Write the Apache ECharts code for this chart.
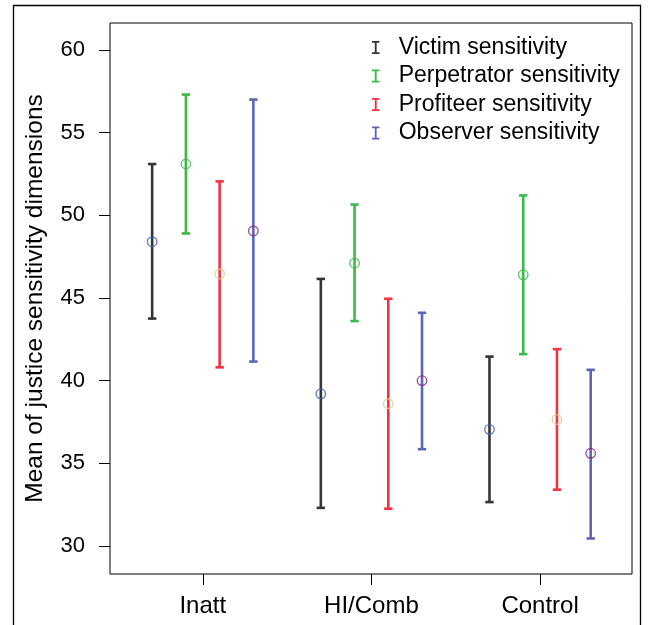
<!DOCTYPE html>
<html style="height: 100%">
<head>
<meta charset="utf-8">
<title>Justice sensitivity</title>
</head>
<body style="height: 100%; margin: 0; background: #fff">
<div id="container" style="width:648px;height:625px"></div>
<script type="text/javascript" src="https://cdn.jsdelivr.net/npm/echarts@6/dist/echarts.min.js"></script>
<script type="text/javascript">
// groups on the x axis
var groups = ['Inatt', 'HI/Comb', 'Control'];
var yTicks = [30, 35, 40, 45, 50, 55, 60];

// means and interval ends
var victimMean = [48.4, 39.2, 37.05];
var victimLow  = [43.75, 32.3, 32.65];
var victimHigh = [53.1, 46.15, 41.45];

var perpMean = [53.1, 47.1, 46.4];
var perpLow  = [48.9, 43.6, 41.6];
var perpHigh = [57.3, 50.65, 51.2];

var profMean = [46.45, 38.6, 37.65];
var profLow  = [40.8, 32.25, 33.4];
var profHigh = [52.05, 44.95, 41.9];

var obsMean = [49.05, 40.0, 35.6];
var obsLow  = [41.15, 35.85, 30.45];
var obsHigh = [57.0, 44.1, 40.65];

var FONT = '"Liberation Sans", Arial, sans-serif';
var IBEAM = 'path://M0,0H8V2H5V12H8V14H0V12H3V2H0Z';

var dom = document.getElementById('container');
var myChart = echarts.init(dom, null, {renderer: 'canvas'});

function barRender(color) {
    return function (params, api) {
        var x = api.value(0);
        var lo = api.coord([x, api.value(1)]);
        var hi = api.coord([x, api.value(2)]);
        var st = {stroke: color, lineWidth: 2.6};
        return {
            type: 'group',
            children: [
                {type: 'line', shape: {x1: lo[0], y1: lo[1], x2: hi[0], y2: hi[1]}, style: st},
                {type: 'line', shape: {x1: lo[0] - 4.2, y1: lo[1], x2: lo[0] + 4.2, y2: lo[1]}, style: st},
                {type: 'line', shape: {x1: hi[0] - 4.2, y1: hi[1], x2: hi[0] + 4.2, y2: hi[1]}, style: st}
            ]
        };
    };
}

function errSeries(name, offset, low, high, color) {
    return {
        name: name,
        type: 'custom',
        itemStyle: {color: color},
        renderItem: barRender(color),
        encode: {x: 0, y: [1, 2]},
        data: groups.map(function (g, i) { return [i + 1 + offset, low[i], high[i]]; }),
        z: 2
    };
}

function meanSeries(name, offset, mean, color) {
    return {
        name: name,
        type: 'scatter',
        symbol: 'circle',
        symbolSize: 9.5,
        itemStyle: {color: 'rgba(0,0,0,0)', borderColor: color, borderWidth: 1.4},
        data: groups.map(function (g, i) { return [i + 1 + offset, mean[i]]; }),
        z: 3
    };
}

var option = {
    backgroundColor: '#fff',
    animation: false,
    graphic: [{
        type: 'rect',
        shape: {x: 13.5, y: 5.5, width: 627, height: 700},
        style: {fill: 'none', stroke: '#000', lineWidth: 1.3},
        z: -1
    }],
    grid: {
        left: 110, right: 16, top: 23, bottom: 51,
        show: true, borderColor: '#000', borderWidth: 1,
        backgroundColor: 'rgba(0,0,0,0)'
    },
    legend: {
        orient: 'vertical',
        left: 367,
        top: 31,
        itemWidth: 8,
        itemHeight: 13,
        itemGap: 5.5,
        selectedMode: false,
        data: [
            {name: 'Victim sensitivity', icon: IBEAM},
            {name: 'Perpetrator sensitivity', icon: IBEAM},
            {name: 'Profiteer sensitivity', icon: IBEAM},
            {name: 'Observer sensitivity', icon: IBEAM}
        ],
        textStyle: {fontFamily: FONT, fontSize: 23, color: '#000', padding: [0, 0, 0, 14]}
    },
    xAxis: {
        type: 'value',
        min: 0.45,
        max: 3.545,
        axisLine: {show: false},
        splitLine: {show: false},
        axisTick: {show: true, customValues: [1, 2, 3], length: 11, lineStyle: {color: '#000', width: 1}},
        axisLabel: {
            customValues: [1, 2, 3],
            margin: 20,
            fontFamily: FONT, fontSize: 24, color: '#000',
            formatter: function (v) { return groups[Math.round(v) - 1]; }
        }
    },
    yAxis: {
        type: 'value',
        min: 28.3,
        max: 61.63,
        name: 'Mean of justice sensitivity dimensions',
        nameLocation: 'middle',
        nameRotate: 90,
        nameGap: 62,
        nameTextStyle: {fontFamily: FONT, fontSize: 24.5, color: '#000'},
        axisLine: {show: false},
        splitLine: {show: false},
        axisTick: {show: true, customValues: yTicks, length: 11, lineStyle: {color: '#000', width: 1}},
        axisLabel: {
            customValues: yTicks,
            margin: 25,
            fontFamily: FONT, fontSize: 22, color: '#000'
        }
    },
    series: [
        errSeries('Victim sensitivity', -0.3, victimLow, victimHigh, '#353535'),
        errSeries('Perpetrator sensitivity', -0.1, perpLow, perpHigh, '#3db84b'),
        errSeries('Profiteer sensitivity', 0.1, profLow, profHigh, '#f2333f'),
        errSeries('Observer sensitivity', 0.3, obsLow, obsHigh, '#5c66b8'),
        meanSeries('Victim mean', -0.3, victimMean, '#3f5fb0'),
        meanSeries('Perpetrator mean', -0.1, perpMean, '#3db84b'),
        meanSeries('Profiteer mean', 0.1, profMean, '#dccb94'),
        meanSeries('Observer mean', 0.3, obsMean, '#862486')
    ]
};

myChart.setOption(option);
</script>
</body>
</html>
